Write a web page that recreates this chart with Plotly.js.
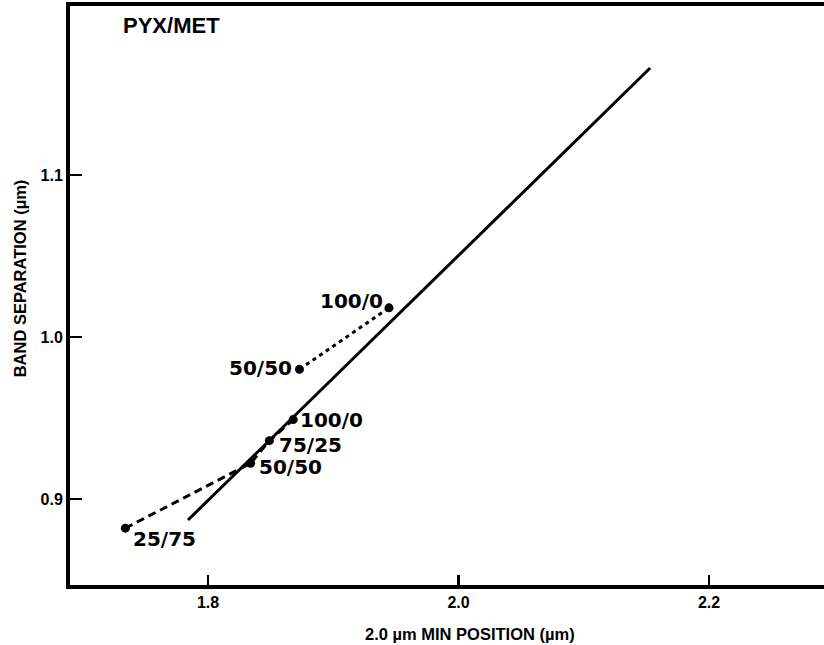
<!DOCTYPE html>
<html><head><meta charset="utf-8">
<script src="https://cdn.plot.ly/plotly-3.0.1.min.js"></script>
<style>html,body{margin:0;padding:0;background:#fff}</style>
</head><body>
<div id="chart" style="width:824px;height:645px"></div>
<script>
// ---- data ----
const trendX = [1.784, 2.153];
const trendY = [0.887, 1.166];

const upperX = [1.873, 1.9445];
const upperY = [0.980, 1.018];
const upperLabels = ['50/50', '100/0'];

const lowerX = [1.734, 1.834, 1.849, 1.868];
const lowerY = [0.882, 0.922, 0.936, 0.949];
const lowerLabels = ['25/75', '50/50', '75/25', '100/0'];

const xTickVals = [1.8, 2.0, 2.2];
const xTickText = ['1.8', '2.0', '2.2'];
const yTickVals = [0.9, 1.0, 1.1];
const yTickText = ['0.9', '1.0', '1.1'];

// ---- label placement (style only) ----
const upperPlace = [
  {xanchor: 'right', xshift: -5, yshift: 1},
  {xanchor: 'right', xshift: -4, yshift: 7}
];
const lowerPlace = [
  {xanchor: 'left', xshift: 6, yshift: -11},
  {xanchor: 'left', xshift: 6, yshift: -4},
  {xanchor: 'left', xshift: 8, yshift: -4},
  {xanchor: 'left', xshift: 5, yshift: 0}
];

const FONT = 'Liberation Sans, Arial, sans-serif';
const WIDE = 'DejaVu Sans, Verdana, sans-serif';
const lblFont = {family: WIDE, size: 20, color: '#000', weight: 'bold'};
const bold = s => '<b>' + s + '</b>';

const traces = [
  {x: trendX, y: trendY, mode: 'lines', line: {color: '#000', width: 3}, hoverinfo: 'skip'},
  {x: upperX, y: upperY, mode: 'lines+markers', line: {color: '#000', width: 3, dash: '4px,4px'},
   marker: {color: '#000', size: 9}},
  {x: lowerX, y: lowerY, mode: 'lines+markers', line: {color: '#000', width: 3, dash: '8px,5px'},
   marker: {color: '#000', size: 9}}
];

const annotations = [];
upperX.forEach((x, i) => annotations.push(Object.assign({
  x: x, y: upperY[i], xref: 'x', yref: 'y', text: bold(upperLabels[i]), showarrow: false,
  yanchor: 'middle', font: lblFont}, upperPlace[i])));
lowerX.forEach((x, i) => annotations.push(Object.assign({
  x: x, y: lowerY[i], xref: 'x', yref: 'y', text: bold(lowerLabels[i]), showarrow: false,
  yanchor: 'middle', font: lblFont}, lowerPlace[i])));

annotations.push({text: bold('PYX/MET'), xref: 'paper', yref: 'paper', x: 0.135, y: 0.966,
  xanchor: 'center', yanchor: 'middle', showarrow: false,
  font: {family: FONT, size: 22, color: '#000'}});
annotations.push({text: bold('BAND SEPARATION (µm)'), xref: 'paper', yref: 'paper', x: -0.066, y: 0.53,
  xanchor: 'center', yanchor: 'middle', textangle: -90, showarrow: false,
  font: {family: FONT, size: 16.5, color: '#000'}});
annotations.push({text: bold('2.0 µm MIN POSITION (µm)'), xref: 'paper', yref: 'paper', x: 0.53, y: -0.085,
  xanchor: 'center', yanchor: 'middle', showarrow: false,
  font: {family: FONT, size: 16.5, color: '#000'}});

const layout = {
  width: 824, height: 645,
  margin: {l: 70, r: 0, t: 6, b: 60},
  paper_bgcolor: '#fff', plot_bgcolor: '#fff',
  showlegend: false,
  xaxis: {range: [1.6898, 2.2918], tickvals: xTickVals, ticktext: xTickText.map(bold),
    ticks: 'inside', ticklen: 10, tickwidth: 2.5, tickcolor: '#000',
    showline: true, linewidth: 4, linecolor: '#000', mirror: true,
    showgrid: false, zeroline: false,
    tickfont: {family: FONT, size: 16, color: '#000'}},
  yaxis: {range: [0.8469, 1.2043], tickvals: yTickVals, ticktext: yTickText.map(bold),
    ticks: 'inside', ticklen: 12, tickwidth: 2.5, tickcolor: '#000',
    showline: true, linewidth: 4, linecolor: '#000',
    showgrid: false, zeroline: false,
    tickfont: {family: FONT, size: 16, color: '#000'}},
  annotations: annotations
};

Plotly.newPlot('chart', traces, layout, {displayModeBar: false, staticPlot: true});
</script>
</body></html>
